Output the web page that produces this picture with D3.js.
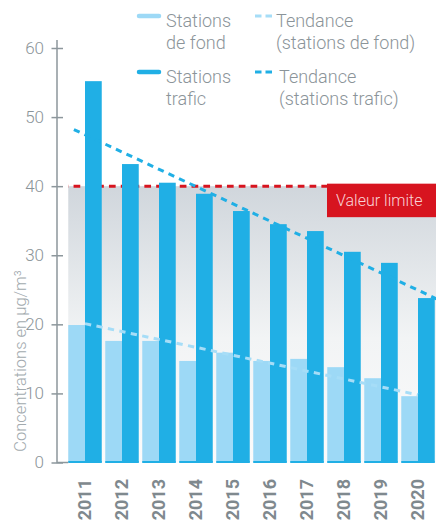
<!DOCTYPE html>
<html>
<head>
<meta charset="utf-8">
<script src="https://cdn.jsdelivr.net/npm/d3@7"></script>
<style>
  html, body { margin: 0; padding: 0; background: #ffffff; }
  svg { display: block; font-family: Roboto, "Open Sans", sans-serif; }
</style>
</head>
<body>
<svg id="chart" width="436" height="521"></svg>
<script>
// NO2 annual means, µg/m³
const years = ["2011", "2012", "2013", "2014", "2015", "2016", "2017", "2018", "2019", "2020"];
const fondValues = [19.9, 17.6, 17.6, 14.7, 15.9, 14.7, 15.0, 13.8, 12.2, 9.6];
const traficValues = [55.2, 43.2, 40.5, 38.9, 36.4, 34.5, 33.5, 30.5, 28.9, 23.8];
const yTicks = [0, 10, 20, 30, 40, 50, 60];
const limitValue = 40;
const limitLabel = "Valeur limite";
const yTitle = "Concentrations en µg/m³";
// Trend lines: end points as [year, value]
const trendFond = [[2011, 20.1], [2020, 9.8]];
const trendTrafic = [[2010.7, 48.2], [2020.5, 23.7]];
const legendItems = [
  ["Stations", "de fond"],
  ["Tendance", "(stations de fond)"],
  ["Stations", "trafic"],
  ["Tendance", "(stations trafic)"]
];

const colFond = "#9dd9f6";
const colTrafic = "#20afe5";
const colText = "#8b9499";
const colAxis = "#8d979c";
const colRed = "#d7141f";

const svg = d3.select("#chart");

const y = d3.scaleLinear().domain([0, 60]).range([462.5, 48]);
const x = d3.scaleBand().domain(years).range([66.5, 436.5])
  .paddingInner(0.095).paddingOuter(0.0475);
const bw = x.bandwidth();
const x1 = d3.scaleBand().domain(["fond", "trafic"]).range([0, bw]);
const xYear = d3.scaleLinear().domain([2011, 2020])
  .range([x("2011") + bw / 2, x("2020") + bw / 2]);

// Gradient zone below the limit value
const defs = svg.append("defs");
const grad = defs.append("linearGradient").attr("id", "zone")
  .attr("x1", 0).attr("y1", 0).attr("x2", 0).attr("y2", 1);
grad.append("stop").attr("offset", "0%").attr("stop-color", "#d0d6dc");
grad.append("stop").attr("offset", "55%").attr("stop-color", "#f2f4f5");
grad.append("stop").attr("offset", "100%").attr("stop-color", "#fbfbfb");

svg.append("rect")
  .attr("x", x("2011"))
  .attr("y", y(limitValue))
  .attr("width", 436 - x("2011"))
  .attr("height", y(0) - y(limitValue))
  .attr("fill", "url(#zone)");

// Limit line (dashed, red)
svg.append("line")
  .attr("x1", x("2011")).attr("x2", 330)
  .attr("y1", y(limitValue)).attr("y2", y(limitValue))
  .attr("stroke", colRed).attr("stroke-width", 3)
  .attr("stroke-dasharray", "6.7 5.1").attr("stroke-dashoffset", 6.5);

// Bars
const groups = svg.append("g").selectAll("g").data(years).join("g")
  .attr("transform", d => `translate(${x(d)},0)`);

groups.append("rect")
  .attr("x", x1("fond")).attr("width", x1.bandwidth())
  .attr("y", (d, i) => y(fondValues[i]))
  .attr("height", (d, i) => y(0) - y(fondValues[i]))
  .attr("fill", colFond);

groups.append("rect")
  .attr("x", x1("trafic")).attr("width", x1.bandwidth())
  .attr("y", (d, i) => y(traficValues[i]))
  .attr("height", (d, i) => y(0) - y(traficValues[i]))
  .attr("fill", colTrafic);

// baseline strip under each group
groups.append("rect")
  .attr("x", 0).attr("width", bw)
  .attr("y", y(0) - 1.5).attr("height", 2)
  .attr("fill", colTrafic);

// Valeur limite box
const boxX = 327;
svg.append("rect")
  .attr("x", boxX).attr("y", y(limitValue) - 2.5)
  .attr("width", 436 - boxX).attr("height", 33.5)
  .attr("fill", colRed);
svg.append("text")
  .attr("x", boxX + 9).attr("y", y(limitValue) + 20)
  .attr("fill", "#f9d3d6").attr("font-size", 16).attr("font-weight", 300)
  .text(limitLabel);

// Trend lines
const trendLine = d3.line().x(d => xYear(d[0])).y(d => y(d[1]));
svg.append("path").datum(trendFond)
  .attr("d", trendLine).attr("fill", "none")
  .attr("stroke", "#a6ddf7").attr("stroke-width", 3)
  .attr("stroke-dasharray", "6.3 5.4");
svg.append("path").datum(trendTrafic)
  .attr("d", trendLine).attr("fill", "none")
  .attr("stroke", colTrafic).attr("stroke-width", 3)
  .attr("stroke-dasharray", "6.3 5.3");

// Y axis
const axisX = 57;
svg.append("path")
  .attr("d", `M${axisX},40V${y(0)}H${x("2011")}`)
  .attr("fill", "none").attr("stroke", colAxis).attr("stroke-width", 1.5);

const yAxis = svg.append("g").attr("transform", `translate(${axisX},0)`)
  .call(d3.axisLeft(y).tickValues(yTicks).tickSize(6).tickPadding(7));
yAxis.select(".domain").remove();
yAxis.selectAll(".tick line")
  .attr("x1", 6).attr("x2", -5.5)
  .attr("stroke", colAxis).attr("stroke-width", 1.5);
yAxis.selectAll(".tick text")
  .attr("fill", colText).attr("font-size", 17).attr("font-weight", 300)
  .attr("font-family", "Roboto, sans-serif");

// Y axis title
svg.append("text")
  .attr("transform", "translate(20,361) rotate(-90)")
  .attr("text-anchor", "middle").attr("dy", "0.35em")
  .attr("fill", "#a2aaae").attr("font-size", 16.5).attr("font-weight", 300)
  .text(yTitle);

// X labels
svg.append("g").selectAll("text").data(years).join("text")
  .attr("transform", d => `translate(${x(d) + bw / 2},479) rotate(-90)`)
  .attr("text-anchor", "end").attr("dy", "0.36em")
  .attr("fill", "#7f898e").attr("font-size", 18).attr("font-weight", 700)
  .text(d => d);

// Legend
const legend = svg.append("g");
const swatches = [
  { x: 137, y: 16, dash: false, color: colFond, tx: 166 },
  { x: 255, y: 16, dash: true, color: "#a6ddf7", tx: 276 },
  { x: 137, y: 72, dash: false, color: colTrafic, tx: 166 },
  { x: 255, y: 72, dash: true, color: colTrafic, tx: 279 }
];
swatches.forEach((s, i) => {
  if (s.dash) {
    legend.append("line")
      .attr("x1", s.x).attr("x2", s.x + 17).attr("y1", s.y).attr("y2", s.y)
      .attr("stroke", s.color).attr("stroke-width", 3)
      .attr("stroke-dasharray", "6.5 4");
  } else {
    legend.append("line")
      .attr("x1", s.x + 2).attr("x2", s.x + 22).attr("y1", s.y).attr("y2", s.y)
      .attr("stroke", s.color).attr("stroke-width", 4.5)
      .attr("stroke-linecap", "round");
  }
  const t = legend.append("text")
    .attr("x", s.tx).attr("y", s.y + 11)
    .attr("fill", colText).attr("font-size", 18).attr("font-weight", 300);
  t.append("tspan").attr("x", s.tx).text(legendItems[i][0]);
  t.append("tspan").attr("x", s.tx).attr("dy", 22).text(legendItems[i][1]);
});
</script>
</body>
</html>
